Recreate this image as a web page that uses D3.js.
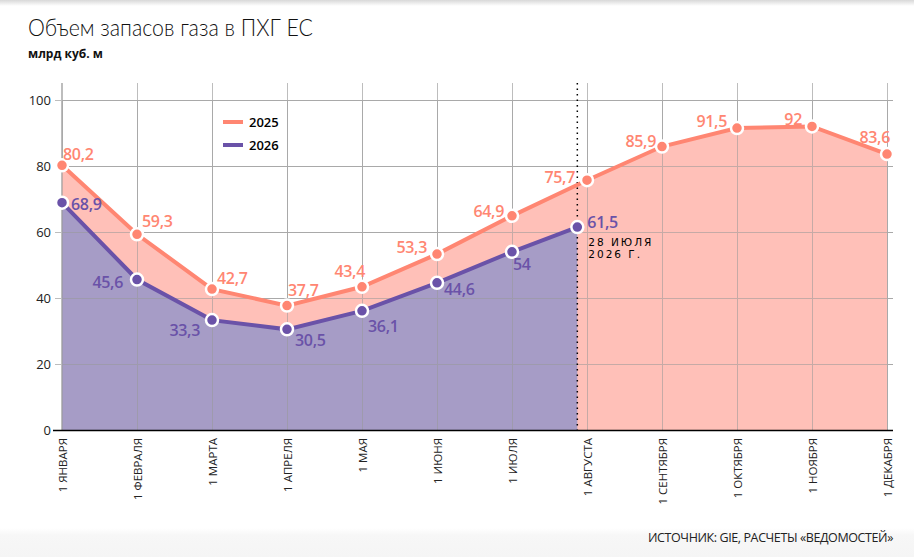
<!DOCTYPE html>
<html><head><meta charset="utf-8">
<script src="https://cdn.jsdelivr.net/npm/d3@7"></script>
<style>
html,body{margin:0;padding:0;background:#fff;}
svg{display:block;}
</style></head>
<body>
<script>
// ---- data ----
const months = ["1 ЯНВАРЯ","1 ФЕВРАЛЯ","1 МАРТА","1 АПРЕЛЯ","1 МАЯ","1 ИЮНЯ","1 ИЮЛЯ","1 АВГУСТА","1 СЕНТЯБРЯ","1 ОКТЯБРЯ","1 НОЯБРЯ","1 ДЕКАБРЯ"];
const values2025 = [80.2,59.3,42.7,37.7,43.4,53.3,64.9,75.7,85.9,91.5,92,83.6];
// 2026: month index (fractional for 28 July) and value
const pos2026 = [0,1,2,3,4,5,6,6+27/31];
const values2026 = [68.9,45.6,33.3,30.5,36.1,44.6,54,61.5];
const yTicks = [0,20,40,60,80,100];
const seriesNames = ["2025","2026"];
const markerLabel = ["28 ИЮЛЯ","2026 Г."];
// label placement (dx, dy, anchor) -- layout only
const lab2025 = [[1,-5,"start"],[5,-7,"start"],[5,-5,"start"],[1,-10,"start"],[3,-10,"end"],[-10,-1,"end"],[-8,1,"end"],[-12,3,"end"],[-6,0,"end"],[-10,-1,"end"],[-10,-1,"end"],[3,-11,"end"]];
const lab2026 = [[9,7,"start"],[-14,8,"end"],[-12,16,"end"],[8,17,"start"],[6,21,"start"],[7,12,"start"],[1,18,"start"],[10,1,"start"]];

const W=914,H=557;
const c2025="#ff8672", f2025="#ffc0b8", c2026="#6a52a8", f2026="#a69cc6", grid="#bdbdbd";

const svg=d3.select("body").append("svg").attr("width",W).attr("height",H);
const defs=svg.append("defs");
const tg=defs.append("linearGradient").attr("id","topsh").attr("x1",0).attr("x2",0).attr("y1",0).attr("y2",1);
tg.append("stop").attr("offset",0).attr("stop-color","#d8d8d8");
tg.append("stop").attr("offset",1).attr("stop-color","#fff");
const bg=defs.append("linearGradient").attr("id","botsh").attr("x1",0).attr("x2",0).attr("y1",0).attr("y2",1);
bg.append("stop").attr("offset",0).attr("stop-color","#fff");
bg.append("stop").attr("offset",0.25).attr("stop-color","#f7f7f7");
bg.append("stop").attr("offset",1).attr("stop-color","#f5f5f5");
svg.append("rect").attr("x",0).attr("y",0).attr("width",W).attr("height",6).attr("fill","url(#topsh)");
svg.append("rect").attr("x",0).attr("y",528).attr("width",W).attr("height",H-528).attr("fill","url(#botsh)");

const x=d3.scaleLinear().domain([0,11]).range([62,887]);
const y=d3.scaleLinear().domain([0,100]).range([430,100]);

// title
svg.append("text").attr("x",28).attr("y",36).text("Объем запасов газа в ПХГ ЕС")
  .attr("font-family","Lato").attr("font-weight",300).attr("font-size",23)
  .attr("textLength",285).attr("lengthAdjust","spacingAndGlyphs").attr("fill","#111");
svg.append("text").attr("x",28).attr("y",58).text("млрд куб. м")
  .attr("font-family","Open Sans").attr("font-weight",700).attr("font-size",12).attr("fill","#111");

// grid
const g=svg.append("g");
g.selectAll("line.h").data(yTicks.slice(1)).join("line")
  .attr("x1",55).attr("x2",893).attr("y1",d=>y(d)).attr("y2",d=>y(d))
  .attr("stroke",grid).attr("stroke-width",1).attr("shape-rendering","crispEdges");
g.selectAll("line.v").data(months).join("line")
  .attr("x1",(d,i)=>x(i)).attr("x2",(d,i)=>x(i)).attr("y1",83).attr("y2",430)
  .attr("stroke",grid).attr("stroke-width",(d,i)=>i===0?1.5:1).attr("shape-rendering","crispEdges");

// areas
const area=d3.area().x(d=>x(d[0])).y0(y(0)).y1(d=>y(d[1]));
const line=d3.line().x(d=>x(d[0])).y(d=>y(d[1]));
const d25=values2025.map((v,i)=>[i,v]);
const d26=values2026.map((v,i)=>[pos2026[i],v]);
svg.append("path").datum(d25).attr("d",area).attr("fill",f2025);
svg.append("path").datum(d26).attr("d",area).attr("fill",f2026);

// grid over areas (visible lines)
const g2=svg.append("g").attr("opacity",0.55);
g2.selectAll("line.h").data(yTicks.slice(1)).join("line")
  .attr("x1",62).attr("x2",893).attr("y1",d=>y(d)).attr("y2",d=>y(d))
  .attr("stroke","#999").attr("shape-rendering","crispEdges");
g2.selectAll("line.v").data(months).join("line")
  .attr("x1",(d,i)=>x(i)).attr("x2",(d,i)=>x(i)).attr("y1",100).attr("y2",430)
  .attr("stroke","#999").attr("shape-rendering","crispEdges");

// axes
const yAxis=svg.append("g").attr("transform","translate(62,0)")
  .call(d3.axisLeft(y).tickValues(yTicks).tickSize(7).tickPadding(4));
yAxis.select(".domain").remove();
yAxis.selectAll(".tick line").attr("stroke",grid);
yAxis.selectAll(".tick text").attr("font-family","Open Sans").attr("font-size",13).attr("fill","#222").attr("dy","0.35em");
svg.append("line").attr("x1",53).attr("x2",893).attr("y1",430.5).attr("y2",430.5).attr("stroke","#000").attr("stroke-width",1.5);

const xAxis=svg.append("g").attr("transform","translate(0,430)")
  .call(d3.axisBottom(x).tickValues(d3.range(12)).tickFormat(i=>months[i]).tickSize(0));
xAxis.select(".domain").remove();
xAxis.selectAll(".tick text").attr("font-family","Open Sans").attr("font-size",11.5).attr("fill","#222")
  .attr("transform","rotate(-90)").attr("text-anchor","end").attr("x",-8).attr("y",0).attr("dy","0.35em");

// dotted marker line
svg.append("line").attr("x1",x(pos2026[7])).attr("x2",x(pos2026[7])).attr("y1",83).attr("y2",434)
  .attr("stroke","#000").attr("stroke-width",1.5).attr("stroke-dasharray","1.5,4");

// lines
svg.append("path").datum(d25).attr("d",line).attr("fill","none").attr("stroke",c2025).attr("stroke-width",4);
svg.append("path").datum(d26).attr("d",line).attr("fill","none").attr("stroke",c2026).attr("stroke-width",4);

// points
svg.selectAll("circle.p25").data(d25).join("circle").attr("cx",d=>x(d[0])).attr("cy",d=>y(d[1])).attr("r",6)
  .attr("fill",c2025).attr("stroke","#fff").attr("stroke-width",2.5);
svg.selectAll("circle.p26").data(d26).join("circle").attr("cx",d=>x(d[0])).attr("cy",d=>y(d[1])).attr("r",6)
  .attr("fill",c2026).attr("stroke","#fff").attr("stroke-width",2.5);

// value labels
const fmt=v=>String(v).replace(".",",");
svg.selectAll("text.l25").data(d25).join("text")
  .attr("x",(d,i)=>x(d[0])+lab2025[i][0]).attr("y",(d,i)=>y(d[1])+lab2025[i][1])
  .attr("text-anchor",(d,i)=>lab2025[i][2]).text(d=>fmt(d[1]))
  .attr("font-family","Open Sans").attr("font-weight",600).attr("font-size",16).attr("fill",c2025).attr("letter-spacing",-0.3);
svg.selectAll("text.l26").data(d26).join("text")
  .attr("x",(d,i)=>x(d[0])+lab2026[i][0]).attr("y",(d,i)=>y(d[1])+lab2026[i][1])
  .attr("text-anchor",(d,i)=>lab2026[i][2]).text(d=>fmt(d[1]))
  .attr("font-family","Open Sans").attr("font-weight",600).attr("font-size",16).attr("fill",c2026).attr("letter-spacing",-0.3);

// marker annotation
const mx=x(pos2026[7])+11, my=y(values2026[7]);
svg.selectAll("text.ann").data(markerLabel).join("text")
  .attr("x",mx).attr("y",(d,i)=>my+19+i*12).text(d=>d)
  .attr("font-family","DejaVu Sans").attr("font-size",10.5).attr("letter-spacing",2).attr("fill","#000");

// legend
const leg=svg.append("g");
const legColors=[c2025,c2026];
seriesNames.forEach((n,i)=>{
  leg.append("line").attr("x1",223).attr("x2",243).attr("y1",122+i*23).attr("y2",122+i*23)
    .attr("stroke",legColors[i]).attr("stroke-width",4);
  leg.append("text").attr("x",249).attr("y",127+i*23).text(n)
    .attr("font-family","Open Sans").attr("font-weight",600).attr("font-size",13).attr("fill","#000");
});

// source
svg.append("text").attr("x",893).attr("y",542).attr("text-anchor","end")
  .text("ИСТОЧНИК: GIE, РАСЧЕТЫ «ВЕДОМОСТЕЙ»")
  .attr("font-family","Open Sans").attr("font-size",12.5).attr("letter-spacing",-0.4).attr("fill","#222");
</script>
</body></html>
